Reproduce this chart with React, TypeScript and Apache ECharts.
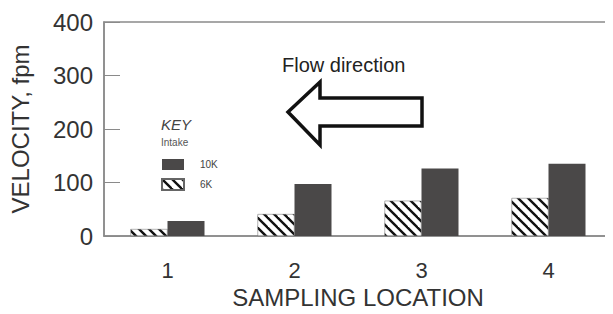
import React, { useEffect, useRef } from "react";
import * as echarts from "echarts";

const categories = ["1", "2", "3", "4"];
const intake6K = [13, 41, 66, 71];
const intake10K = [28, 97, 126, 135];
const yTicks = [0, 100, 200, 300, 400];

const FONT = "'Liberation Sans', Arial, sans-serif";
const TEXT = "#333";
const AXIS = "#8a8a8a";
const DARK = "#4a4848";

function makeHatch() {
  const s = 10;
  const c = document.createElement("canvas");
  c.width = s;
  c.height = s;
  const ctx = c.getContext("2d")!;
  ctx.fillStyle = "#fff";
  ctx.fillRect(0, 0, s, s);
  ctx.strokeStyle = "#111";
  ctx.lineWidth = 2.4;
  for (const k of [-s, 0, s]) {
    ctx.beginPath();
    ctx.moveTo(-2, -2 + k);
    ctx.lineTo(s + 2, s + 2 + k);
    ctx.stroke();
  }
  return { image: c, repeat: "repeat", imageWidth: s, imageHeight: s } as any;
}

// chart div sits at (8, 8) on the page; graphic coords are chart-relative
const OFF = 8;

export default function App() {
  const ref = useRef<HTMLDivElement>(null);
  useEffect(() => {
    if (!ref.current) return;
    const chart = echarts.init(ref.current, null, { renderer: "svg" });
    const hatch = makeHatch();
    const arrow = [
      [288, 112],
      [320, 82],
      [320, 98],
      [422, 98],
      [422, 126],
      [320, 126],
      [320, 145],
    ].map(([x, y]) => [x - OFF, y - OFF]);
    chart.setOption({
      animation: false,
      backgroundColor: "#fff",
      textStyle: { fontFamily: FONT },
      grid: {
        left: 96,
        top: 14,
        right: 1,
        bottom: 78,
        show: true,
        borderColor: AXIS,
        borderWidth: 1.5,
        containLabel: false,
        outerBoundsMode: "none",
      },
      legend: {
        data: ["10K", "6K"],
        orient: "vertical",
        left: 148,
        top: 146,
        itemWidth: 22,
        itemHeight: 11,
        itemGap: 8,
        icon: "rect",
        textStyle: {
          fontFamily: FONT,
          fontSize: 10,
          color: "#444",
          padding: [0, 0, 0, 11],
        },
      },
      xAxis: [
        {
          type: "category",
          data: categories,
          position: "bottom",
          axisLine: { lineStyle: { color: AXIS, width: 1.5 } },
          axisTick: {
            inside: true,
            length: 9,
            lineStyle: { color: AXIS },
          },
          axisLabel: {
            fontFamily: FONT,
            fontSize: 22,
            color: TEXT,
            margin: 23,
          },
          name: "SAMPLING LOCATION",
          nameLocation: "middle",
          nameGap: 49,
          nameTextStyle: { fontFamily: FONT, fontSize: 24, color: TEXT },
        },
        {
          type: "category",
          data: categories,
          position: "top",
          axisLine: { show: false },
          axisTick: { inside: true, length: 10, lineStyle: { color: AXIS } },
          axisLabel: { show: false },
        },
      ],
      yAxis: {
        type: "value",
        min: yTicks[0],
        max: yTicks[yTicks.length - 1],
        interval: 100,
        axisLine: { show: true, lineStyle: { color: AXIS, width: 1.5 } },
        axisTick: { show: true, inside: true, length: 16, lineStyle: { color: AXIS } },
        splitLine: { show: false },
        axisLabel: {
          fontFamily: FONT,
          fontSize: 24,
          color: TEXT,
          margin: 11,
        },
        name: "VELOCITY, fpm",
        nameLocation: "middle",
        nameGap: 72,
        nameTextStyle: { fontFamily: FONT, fontSize: 24, color: TEXT },
      },
      graphic: [
        {
          type: "text",
          left: 282 - OFF,
          top: 55 - OFF,
          style: {
            text: "Flow direction",
            font: `20px ${FONT}`,
            fill: "#222",
          },
        },
        {
          type: "polygon",
          shape: { points: arrow },
          style: { fill: "#fff", stroke: "#111", lineWidth: 3.5, lineJoin: "miter" },
        },
        {
          type: "text",
          left: 161 - OFF,
          top: 117 - OFF,
          style: {
            text: "KEY",
            font: `italic 15px ${FONT}`,
            fill: "#444",
          },
        },
        {
          type: "text",
          left: 161 - OFF,
          top: 137 - OFF,
          style: {
            text: "Intake",
            font: `10px ${FONT}`,
            fill: "#555",
          },
        },
      ],
      series: [
        {
          name: "6K",
          type: "bar",
          data: intake6K,
          barWidth: 37,
          barGap: "0%",
          itemStyle: { color: hatch, borderColor: "#666", borderWidth: 0.5 },
        },
        {
          name: "10K",
          type: "bar",
          data: intake10K,
          barWidth: 37,
          barGap: "0%",
          itemStyle: { color: DARK },
        },
      ],
    });
    return () => chart.dispose();
  }, []);
  return <div ref={ref} style={{ width: 605, height: 306 }} />;
}
